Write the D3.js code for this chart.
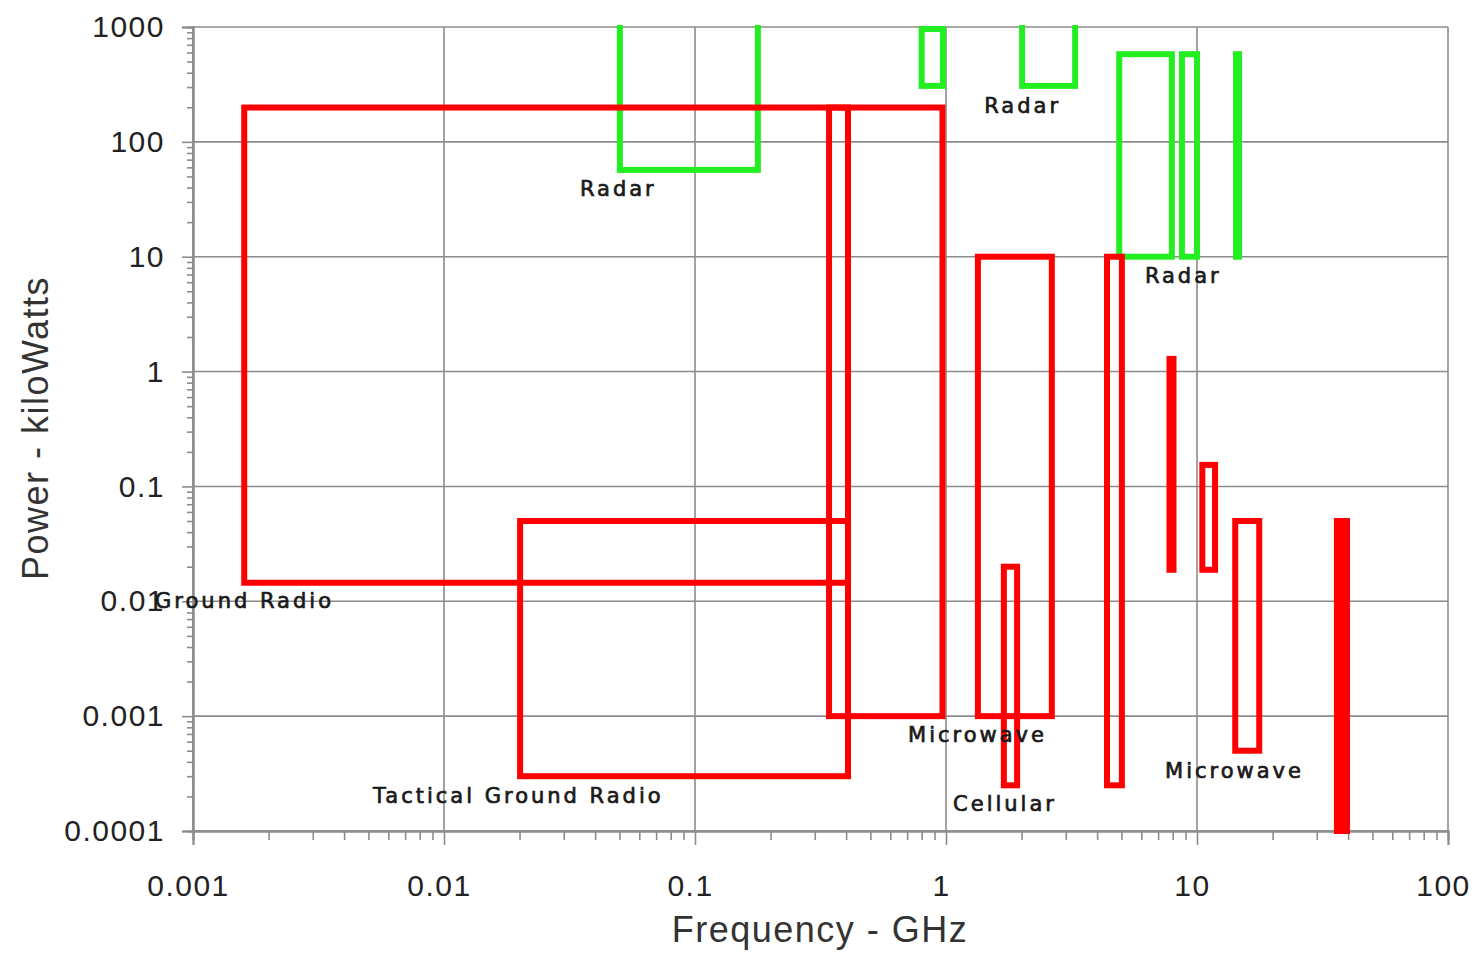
<html>
  <head>
    <script src="https://d3js.org/d3.v7.min.js"></script>
    <style>
      body { margin: 0; background: #fff; }
    </style>
  </head>

  <body>
    <div id="vis"></div>
  </body>
  <script>
    // Tick values for both log axes
    var xTicks = [0.001, 0.01, 0.1, 1, 10, 100]
    var xTickLabels = ["0.001", "0.01", "0.1", "1", "10", "100"]
    var yTicks = [0.0001, 0.001, 0.01, 0.1, 1, 10, 100, 1000]
    var yTickLabels = ["0.0001", "0.001", "0.01", "0.1", "1", "10", "100", "1000"]

    // Bands as [freqLow, freqHigh, powerLow, powerHigh] in GHz / kW
    var redBands = [
      [0.0016, 0.407, 0.0145, 199],
      [0.0201, 0.407, 0.0003, 0.05],
      [0.342, 0.968, 0.001, 199],
      [1.34, 2.64, 0.001, 10],
      [1.70, 1.92, 0.00025, 0.02],
      [4.38, 5.02, 0.00025, 10],
      [10.5, 11.8, 0.0188, 0.154],
      [14.2, 17.7, 0.0005, 0.05]
    ]
    // narrow bands drawn as solid bars
    var redBars = [
      [7.77, 8.06, 0.0188, 1.29],
      [36.1, 39.6, 0.0001, 0.05]
    ]
    var greenBands = [
      [0.0502, 0.178, 57, 1500],
      [0.80, 0.973, 307, 960],
      [2.01, 3.27, 307, 1500],
      [4.9, 7.94, 10, 580],
      [8.71, 10.0, 10, 580]
    ]
    var greenBars = [
      [14.3, 14.7, 10, 580]
    ]

    // Labels: [text, freq at left edge, power at baseline]
    var labels = [
      ["Radar", 0.0348, 33.8],
      ["Radar", 1.42, 178],
      ["Radar", 6.2, 5.9],
      ["Ground Radio", 0.000706, 0.00877],
      ["Tactical Ground Radio", 0.00521, 0.000176],
      ["Microwave", 0.706, 0.000598],
      ["Cellular", 1.067, 0.000150],
      ["Microwave", 7.46, 0.000291]
    ]

    var margin = {top: 27, right: 34, bottom: 122, left: 193}
    var width = 1482 - margin.left - margin.right
    var height = 953 - margin.top - margin.bottom

    var svg = d3.select("#vis")
      .append("svg")
      .attr("width", width + margin.left + margin.right)
      .attr("height", height + margin.top + margin.bottom)
      .append("g")
      .attr("transform", "translate(" + margin.left + "," + margin.top + ")")

    var x = d3.scaleLog()
      .domain([0.001, 100])
      .range([0, width])

    var y = d3.scaleLog()
      .domain([0.0001, 1000])
      .range([height, 0])

    // minor ticks 2..9 in each decade
    function minors(ticks) {
      var out = []
      ticks.slice(0, -1).forEach(function(t) {
        for (var k = 2; k < 10; k++) out.push(t * k)
      })
      return out
    }

    var gridColor = "#8c8c8c"
    var tickFont = '"Liberation Sans", Arial, sans-serif'

    // Grid
    svg.append("g")
      .selectAll("line.gx")
      .data(xTicks)
      .join("line")
      .attr("x1", d => x(d)).attr("x2", d => x(d))
      .attr("y1", 0).attr("y2", height)
      .attr("stroke", gridColor)
      .attr("stroke-width", 1.6)

    svg.append("g")
      .selectAll("line.gy")
      .data(yTicks)
      .join("line")
      .attr("x1", 0).attr("x2", width)
      .attr("y1", d => y(d)).attr("y2", d => y(d))
      .attr("stroke", gridColor)
      .attr("stroke-width", 1.6)

    // Axes
    var xAxis = svg.append("g")
      .attr("transform", "translate(0," + height + ")")
      .call(d3.axisBottom(x).tickValues(xTicks)
        .tickFormat((d, i) => xTickLabels[i])
        .tickSize(14).tickPadding(30))
    xAxis.append("g")
      .call(d3.axisBottom(x).tickValues(minors(xTicks)).tickFormat("").tickSize(9))

    var yAxis = svg.append("g")
      .call(d3.axisLeft(y).tickValues(yTicks)
        .tickFormat((d, i) => yTickLabels[i])
        .tickSize(11).tickPadding(17))
    yAxis.append("g")
      .call(d3.axisLeft(y).tickValues(minors(yTicks)).tickFormat("").tickSize(6))

    svg.selectAll(".domain").attr("stroke", gridColor).attr("stroke-width", 2)
    svg.selectAll(".tick line").attr("stroke", gridColor).attr("stroke-width", 1.6)
    svg.selectAll(".tick text")
      .attr("fill", "#222")
      .style("font-family", tickFont)
      .style("font-size", "30px")
      .style("letter-spacing", "1.5px")
    xAxis.selectAll(".tick text").attr("dx", "-5")

    // Clip bands to plot area
    svg.append("clipPath")
      .attr("id", "plotclip")
      .append("rect")
      .attr("x", -4).attr("y", -2)
      .attr("width", width + 8).attr("height", height + 6)

    var bands = svg.append("g").attr("clip-path", "url(#plotclip)")

    function drawBands(data, color, filled) {
      bands.append("g")
        .selectAll("rect")
        .data(data)
        .join("rect")
        .attr("x", d => x(d[0]))
        .attr("width", d => x(d[1]) - x(d[0]))
        .attr("y", d => y(d[3]))
        .attr("height", d => y(d[2]) - y(d[3]))
        .attr("fill", filled ? color : "none")
        .attr("stroke", color)
        .attr("stroke-width", 6)
    }

    drawBands(greenBands, "#22ee22", false)
    drawBands(greenBars, "#22ee22", true)
    drawBands(redBands, "#ff0000", false)
    drawBands(redBars, "#ff0000", true)

    // Labels
    svg.append("g")
      .selectAll("text")
      .data(labels)
      .join("text")
      .attr("x", d => x(d[1]))
      .attr("y", d => y(d[2]))
      .text(d => d[0])
      .attr("fill", "#1a1a1a")
      .attr("stroke", "#1a1a1a")
      .attr("stroke-width", 0.7)
      .style("font-family", '"DejaVu Sans", Verdana, sans-serif')
      .style("font-size", "21px")
      .style("letter-spacing", "3px")

    // Axis titles
    svg.append("text")
      .text("Frequency - GHz")
      .attr("x", 820 - margin.left)
      .attr("y", 942 - margin.top)
      .attr("text-anchor", "middle")
      .attr("fill", "#333")
      .style("font-family", tickFont)
      .style("font-size", "36px")
      .style("letter-spacing", "1.5px")

    svg.append("text")
      .text("Power - kiloWatts")
      .attr("transform", "translate(" + (48 - margin.left) + "," + (428 - margin.top) + ") rotate(-90)")
      .attr("text-anchor", "middle")
      .attr("fill", "#333")
      .style("font-family", tickFont)
      .style("font-size", "36px")
      .style("letter-spacing", "1.5px")
  </script>
</html>
